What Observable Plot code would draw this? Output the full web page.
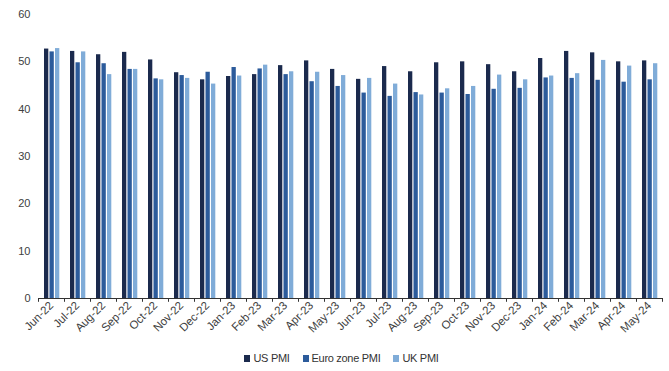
<!DOCTYPE html>
<html>
<head>
<meta charset="utf-8">
<script src="https://cdn.jsdelivr.net/npm/d3@7"></script>
<script src="https://cdn.jsdelivr.net/npm/@observablehq/plot@0.6"></script>
<style>
  html, body { margin: 0; padding: 0; background: #fff; }
  #chart { width: 669px; }
  .legend { display: flex; justify-content: center; gap: 13px; margin-top: 10px;
    font-family: "Liberation Sans Narrow", "Arial Narrow", "Liberation Sans", sans-serif;
    font-size: 11px; color: #333; padding-left: 14px; letter-spacing: -0.3px; }
  .legend span.item { display: inline-flex; align-items: center; gap: 3px; }
  .legend span.sw { width: 6px; height: 7px; display: inline-block; }
</style>
</head>
<body>
<div id="chart"></div>
<script>
const months = ["Jun-22","Jul-22","Aug-22","Sep-22","Oct-22","Nov-22","Dec-22","Jan-23","Feb-23","Mar-23","Apr-23","May-23",
                "Jun-23","Jul-23","Aug-23","Sep-23","Oct-23","Nov-23","Dec-23","Jan-24","Feb-24","Mar-24","Apr-24","May-24"];
const usPMI   = [52.7,52.2,51.5,52.0,50.4,47.7,46.2,46.9,47.3,49.2,50.2,48.4,46.3,49.0,47.9,49.8,50.0,49.4,47.9,50.7,52.2,51.9,50.0,50.2];
const euroPMI = [52.1,49.8,49.6,48.4,46.4,47.1,47.8,48.8,48.5,47.3,45.8,44.8,43.4,42.7,43.5,43.4,43.1,44.2,44.4,46.6,46.5,46.1,45.7,46.2];
const ukPMI   = [52.8,52.1,47.3,48.4,46.2,46.5,45.3,47.0,49.3,47.9,47.8,47.1,46.5,45.3,43.0,44.3,44.8,47.2,46.2,47.0,47.5,50.3,49.1,49.6];
const seriesNames = ["US PMI","Euro zone PMI","UK PMI"];
const seriesColors = ["#1b2a4d","#2c5b9b","#80acd8"];
const yTicks = [0,10,20,30,40,50,60];

const seriesValues = [usPMI, euroPMI, ukPMI];
const W = 669, H = 342, mL = 38, mR = 7, mT = 14, mB = 44;
const step = (W - mL - mR) / months.length;
const barW = 4.3, barStep = 5.5, groupOff = 6;

const barMarks = seriesNames.map((name, i) => {
  const rows = months.map((m, j) => ({month: m, value: seriesValues[i][j], series: name}));
  const left = groupOff + i * barStep;
  return Plot.barY(rows, {x: "month", y: "value", fill: "series",
    insetLeft: left, insetRight: step - left - barW});
});

const plot = Plot.plot({
  width: W, height: H,
  marginLeft: mL, marginRight: mR, marginTop: mT, marginBottom: mB,
  style: {fontFamily: "'Liberation Sans', Arial, sans-serif", color: "#404040", background: "#fff"},
  x: {type: "band", domain: months, padding: 0},
  y: {domain: [0, 60]},
  color: {domain: seriesNames, range: seriesColors},
  marks: [
    ...barMarks,
    Plot.ruleY([0], {stroke: "#333", strokeWidth: 1}),
    Plot.ruleX(months, {x: d => d, dx: -step / 2, y1: 0, y2: -0.8, stroke: "#333"}),
    Plot.ruleX(months.slice(-1), {x: d => d, dx: step / 2, y1: 0, y2: -0.8, stroke: "#333"}),
    Plot.axisY({ticks: yTicks, tickSize: 0, tickPadding: 8, fontSize: 11, label: null}),
    Plot.axisX({tickSize: 0, tickRotate: -45, tickPadding: 5, fontSize: 11.5, label: null})
  ]
});

const chart = document.getElementById("chart");
chart.appendChild(plot);

const legend = document.createElement("div");
legend.className = "legend";
seriesNames.forEach((name, i) => {
  const item = document.createElement("span");
  item.className = "item";
  const sw = document.createElement("span");
  sw.className = "sw";
  sw.style.background = seriesColors[i];
  item.appendChild(sw);
  item.appendChild(document.createTextNode(name));
  legend.appendChild(item);
});
chart.appendChild(legend);
</script>
</body>
</html>
